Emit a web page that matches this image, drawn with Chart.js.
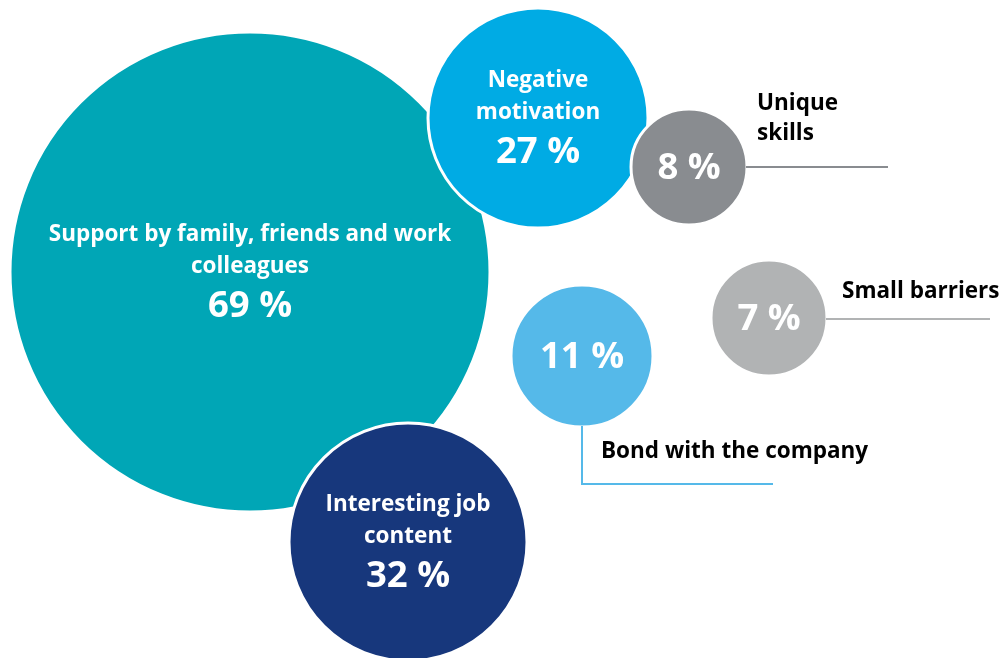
<!DOCTYPE html>
<html>
<head>
<meta charset="utf-8">
<script src="https://cdn.jsdelivr.net/npm/chart.js@4.4.1/dist/chart.umd.min.js"></script>
<style>
  html, body { margin: 0; padding: 0; background: #fff; }
  #wrap { width: 1003px; height: 658px; position: relative; }
</style>
</head>
<body>
<div id="wrap"><canvas id="bubbles"></canvas></div>
<script>
// factors and their shares (%)
const categories = [
  'Support by family, friends and work colleagues',
  'Negative motivation',
  'Interesting job content',
  'Unique skills',
  'Small barriers',
  'Bond with the company'
];
const shares = [69, 27, 32, 8, 7, 11];

// text drawn inside / beside each bubble
const innerLines = [
  ['Support by family, friends and work', 'colleagues'],
  ['Negative', 'motivation'],
  ['Interesting job', 'content'],
  [], [], []
];
const outerLines = [[], [], [], ['Unique', 'skills'], ['Small barriers'], ['Bond with the company']];

// placement on the 1003 x 658 canvas grid
const posX = [250, 538, 408, 689, 769, 582];
const posY = [272, 118, 542, 167, 318, 356];
const radius = [240, 110, 119, 58, 58, 71];
const colors = ['#00A6B6', '#00ABE4', '#17377C', '#898C90', '#B1B3B4', '#55B9E9'];

const FONT = "'Open Sans', 'Noto Sans', sans-serif";

const labelPlugin = {
  id: 'bubbleLabels',
  afterDatasetsDraw(chart) {
    const ctx = chart.ctx;
    const pts = chart.getDatasetMeta(0).data;
    ctx.save();
    ctx.textBaseline = 'middle';

    pts.forEach((pt, i) => {
      const x = pt.x, y = pt.y, r = pt.options.radius;
      const lines = innerLines[i];
      ctx.fillStyle = '#fff';
      ctx.textAlign = 'center';
      if (lines.length) {
        ctx.font = 'bold 22.5px ' + FONT;
        lines.forEach((t, k) => ctx.fillText(t, x, y - 37 + k * 32));
        ctx.font = 'bold 36.5px ' + FONT;
        ctx.fillText(shares[i] + ' %', x, y + 35);
      } else {
        ctx.font = 'bold 36.5px ' + FONT;
        ctx.fillText(shares[i] + ' %', x, y + 2);
      }

      // leader lines and outside captions
      const cap = outerLines[i];
      if (!cap.length) return;
      ctx.strokeStyle = colors[i];
      ctx.lineWidth = 2;
      ctx.beginPath();
      ctx.fillStyle = '#000';
      ctx.textAlign = 'left';
      ctx.font = 'bold 22.5px ' + FONT;
      if (categories[i] === 'Bond with the company') {
        ctx.moveTo(x, y + r - 1);
        ctx.lineTo(x, 484);
        ctx.lineTo(773, 484);
        ctx.stroke();
        ctx.fillText(cap[0], 601, 452);
      } else if (categories[i] === 'Unique skills') {
        ctx.moveTo(x + r - 1, y);
        ctx.lineTo(888, y);
        ctx.stroke();
        cap.forEach((t, k) => ctx.fillText(t, 757, 104 + k * 30));
      } else {
        ctx.moveTo(x + r - 1, y + 1);
        ctx.lineTo(990, y + 1);
        ctx.stroke();
        ctx.fillText(cap[0], 842, 292);
      }
    });
    ctx.restore();
  }
};

new Chart(document.getElementById('bubbles'), {
  type: 'bubble',
  data: {
    labels: categories,
    datasets: [{
      data: shares.map((v, i) => ({ x: posX[i], y: posY[i], r: radius[i], v })),
      backgroundColor: colors,
      borderColor: '#ffffff',
      borderWidth: 3,
      clip: false
    }]
  },
  options: {
    responsive: true,
    maintainAspectRatio: false,
    animation: false,
    events: [],
    layout: { padding: 0, autoPadding: false },
    plugins: { legend: { display: false }, tooltip: { enabled: false } },
    scales: {
      x: { type: 'linear', min: 0, max: 1003, display: false },
      y: { type: 'linear', min: 0, max: 658, reverse: true, display: false }
    }
  },
  plugins: [labelPlugin]
});
</script>
</body>
</html>
